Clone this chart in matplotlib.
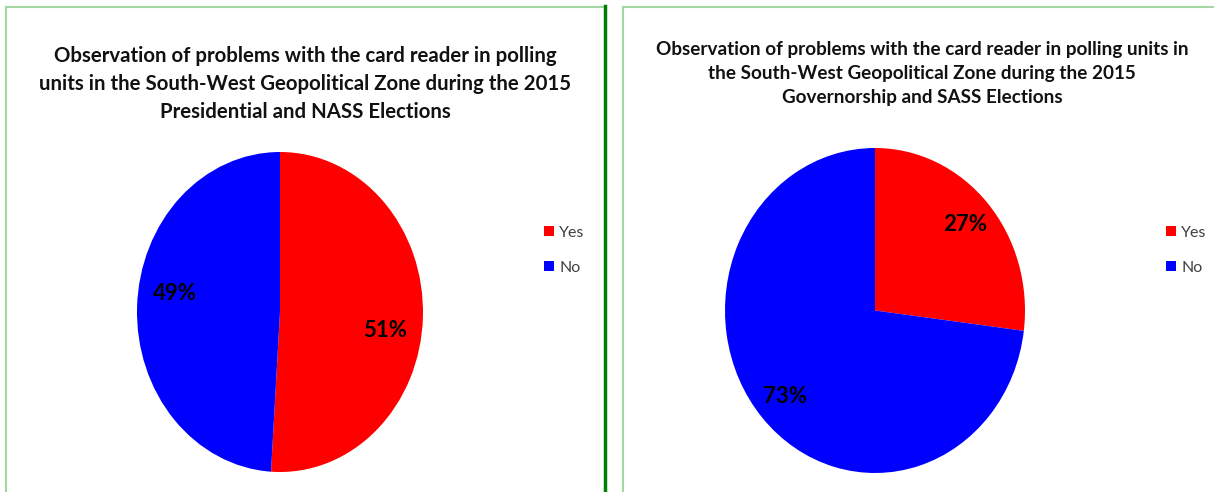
import matplotlib
matplotlib.use("Agg")
import numpy as np
import matplotlib.pyplot as plt
from matplotlib.patches import Patch
from matplotlib.lines import Line2D

categories = ["Yes", "No"]
pres_values = [51, 49]
gov_values = [27, 73]
colors = ["#FF0000", "#0000FF"]
title_left = ("Observation of problems with the card reader in polling\n"
              "units in the South-West Geopolitical Zone during the 2015\n"
              "Presidential and NASS Elections")
title_right = ("Observation of problems with the card reader in polling units in\n"
               "the South-West Geopolitical Zone during the 2015\n"
               "Governorship and SASS Elections")

W, H = 1214, 492
fig = plt.figure(figsize=(W / 100, H / 100), dpi=100)
plt.rcParams['font.family'] = ['Lato', 'DejaVu Sans']

def box(x0, y0, x1, y1):
    return [x0 / W, 1 - y1 / H, (x1 - x0) / W, (y1 - y0) / H]

# panel borders
light = "#A3D6A3"
fig.add_artist(Line2D([6 / W, 6 / W], [0, 1 - 7 / H], color=light, lw=1.5, transform=fig.transFigure))
fig.add_artist(Line2D([6 / W, 605 / W], [1 - 7 / H, 1 - 7 / H], color=light, lw=1.5, transform=fig.transFigure))
fig.add_artist(Line2D([605 / W, 605 / W], [0, 1 - 6 / H], color="#008000", lw=2.5, transform=fig.transFigure))
fig.add_artist(Line2D([623 / W, 623 / W], [0, 1 - 7 / H], color=light, lw=1.5, transform=fig.transFigure))
fig.add_artist(Line2D([623 / W, 1], [1 - 7 / H, 1 - 7 / H], color=light, lw=1.5, transform=fig.transFigure))

def draw_pie(rect, values, pctd, rot):
    ax = fig.add_axes(rect)
    wedges, texts, autotexts = ax.pie(values, colors=colors, startangle=90, counterclock=False,
                                      autopct=lambda p: f"{p:.0f}%", pctdistance=pctd,
                                      radius=1, wedgeprops=dict(linewidth=0),
                                      textprops=dict(fontsize=16, fontweight='bold', color='black'))
    # nudge label placement around the wedge centre angle (label style)
    for w, t in zip(wedges, autotexts):
        ang = np.deg2rad((w.theta1 + w.theta2) / 2 + rot)
        t.set_position((pctd * np.cos(ang), pctd * np.sin(ang)))
    ax.set_aspect('auto')
    ax.set_xlim(-1, 1)
    ax.set_ylim(-1, 1)
    ax.axis('off')
    return ax

draw_pie(box(137, 152, 423, 472), pres_values, 0.74, -7)
draw_pie(box(725, 148, 1025, 473), gov_values, 0.8, 0)

fig.text(305 / W, 1 - 84 / H, title_left, ha='center', va='center', fontsize=14.7,
         fontweight='bold', linespacing=1.5, color='#111111')
fig.text(922 / W, 1 - 73.5 / H, title_right, ha='center', va='center', fontsize=13.6,
         fontweight='bold', linespacing=1.5, color='#111111')

def legend(x, y):
    handles = [Patch(facecolor=c, edgecolor='none') for c in colors]
    fig.legend(handles, categories, loc='upper left', bbox_to_anchor=(x / W, 1 - y / H),
               frameon=False, fontsize=11.5, handlelength=0.6, handleheight=0.6,
               handletextpad=0.35, labelspacing=1.3, borderpad=0, borderaxespad=0,
               labelcolor='#404040')

legend(544, 226)
legend(1166, 226)

fig.savefig("out.png", dpi=100)
